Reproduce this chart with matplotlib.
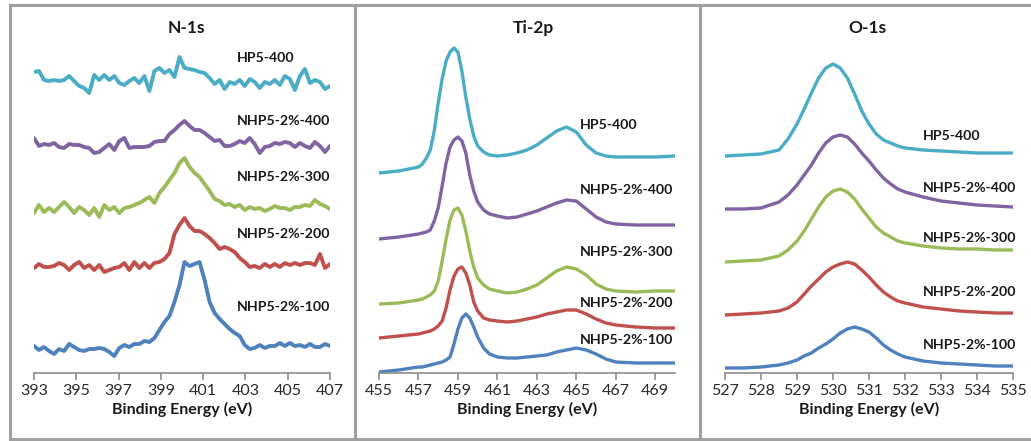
import numpy as np
import matplotlib
matplotlib.use("Agg")
import matplotlib.pyplot as plt
from matplotlib.lines import Line2D

plt.rcParams["font.family"] = ["Lato", "DejaVu Sans"]

names = ["HP5-400", "NHP5-2%-400", "NHP5-2%-300", "NHP5-2%-200", "NHP5-2%-100"]
colors = ["#4bacc6", "#8064a2", "#9bbb59", "#c0504d", "#4f81bd"]

# ---- N-1s (noisy, stacked with offsets) ----
n1s_energy = np.linspace(393, 407, 60)
n1s_hp5_400 = [301, 302, 293, 292, 293, 292, 293, 297, 292, 287,
               285, 280, 298, 293, 298, 293, 297, 290, 288, 292,
               295, 290, 297, 282, 302, 305, 300, 303, 296, 316,
               305, 304, 303, 301, 300, 295, 289, 293, 284, 291,
               289, 293, 287, 294, 291, 285, 291, 289, 293, 288,
               297, 294, 283, 297, 304, 290, 293, 291, 284, 287]
n1s_400 = [235, 227, 229, 228, 230, 226, 225, 229, 228, 228,
           226, 225, 220, 221, 225, 229, 223, 232, 235, 225,
           226, 226, 226, 227, 231, 232, 232, 239, 243, 248,
           252, 247, 243, 243, 240, 236, 232, 233, 227, 227,
           229, 232, 230, 235, 229, 220, 226, 227, 230, 229,
           231, 230, 226, 230, 227, 225, 231, 227, 221, 227]
n1s_300 = [160, 168, 161, 165, 161, 166, 171, 166, 160, 166,
           163, 158, 165, 156, 168, 163, 166, 160, 165, 166,
           168, 170, 173, 176, 170, 180, 186, 193, 200, 210,
           215, 206, 200, 196, 189, 182, 174, 172, 168, 169,
           166, 168, 163, 166, 164, 165, 162, 164, 167, 165,
           165, 163, 166, 166, 168, 167, 173, 169, 167, 164]
n1s_200 = [105, 109, 106, 106, 107, 110, 108, 103, 108, 111,
           105, 108, 103, 108, 101, 103, 105, 106, 110, 103,
           111, 105, 110, 105, 110, 111, 114, 120, 139, 148,
           155, 147, 142, 142, 139, 135, 130, 124, 126, 124,
           121, 115, 111, 106, 107, 105, 109, 106, 109, 106,
           110, 108, 110, 108, 110, 110, 108, 119, 105, 109]
n1s_100 = [27, 23, 26, 22, 19, 24, 22, 29, 26, 23,
           22, 24, 24, 25, 24, 21, 17, 25, 28, 26,
           29, 29, 32, 31, 35, 43, 51, 57, 71, 88,
           111, 107, 109, 111, 93, 71, 60, 54, 49, 44,
           40, 37, 28, 24, 25, 28, 25, 27, 27, 30,
           27, 30, 27, 28, 26, 29, 26, 26, 29, 27]

# ---- Ti-2p ----
ti_energy = [455, 456, 457, 457.2, 457.4, 457.6, 457.8, 458.0, 458.2, 458.4,
             458.6, 458.8, 459.0, 459.2, 459.4, 459.6, 459.8, 460.0, 460.3, 460.6,
             461, 461.5, 462, 462.5, 463, 463.5, 464, 464.5, 465, 465.5,
             466, 466.5, 467, 468, 469, 470]
ti_hp5_400 = [200, 202, 206, 209, 215, 223, 242, 270, 294, 312,
              321, 325, 321, 302, 276, 254, 237, 227, 221, 218,
              217, 218, 220, 223, 228, 235, 242, 246, 241, 228,
              220, 217, 216, 216, 216, 217]
ti_400 = [134, 136, 139, 140, 141, 143, 152, 165, 187, 210,
          226, 233, 236, 232, 220, 198, 182, 171, 163, 159,
          157, 155, 156, 159, 162, 166, 170, 173, 172, 164,
          156, 151, 149, 148, 148, 148]
ti_300 = [69, 70, 73, 74, 76, 78, 82, 92, 112, 134,
          153, 163, 165, 158, 142, 122, 106, 95, 88, 84,
          82, 80, 81, 84, 88, 95, 102, 106, 104, 98,
          89, 84, 82, 81, 82, 82]
ti_200 = [35, 37, 39, 40, 41, 42, 44, 47, 52, 65,
          83, 97, 104, 106, 100, 88, 71, 62, 55, 53,
          52, 51, 52, 54, 56, 59, 61, 63, 63, 59,
          54, 50, 48, 46, 45, 45]
ti_100 = [1, 3, 6, 6, 7, 8, 9, 10, 11, 13,
          16, 29, 44, 55, 59, 55, 46, 36, 25, 19,
          16, 15, 15, 16, 17, 18, 21, 23, 25, 23,
          19, 14, 11, 10, 10, 10]

# ---- O-1s ----
o_energy = [527, 527.5, 528, 528.5, 528.75, 529, 529.2, 529.4, 529.6, 529.8,
            530, 530.2, 530.4, 530.6, 530.8, 531, 531.2, 531.4, 531.6, 531.8,
            532, 532.5, 533, 533.5, 534, 534.5, 535]
o_hp5_400 = [217, 218, 219, 223, 234, 249, 264, 280, 295, 305,
             309, 305, 295, 279, 262, 249, 239, 233, 230, 227,
             225, 223, 222, 221, 220, 220, 220]
o_400 = [164, 164, 165, 171, 178, 188, 198, 208, 220, 230,
         236, 238, 236, 229, 220, 212, 203, 195, 189, 184,
         181, 176, 172, 170, 168, 167, 166]
o_300 = [111, 112, 113, 117, 123, 132, 142, 154, 166, 176,
         182, 184, 181, 174, 164, 155, 146, 140, 136, 132,
         130, 127, 125, 124, 124, 123, 123]
o_200 = [58, 59, 60, 62, 65, 71, 79, 87, 94, 101,
         106, 109, 111, 109, 103, 96, 88, 81, 76, 72,
         70, 66, 64, 62, 61, 60, 60]
o_100 = [5, 5, 6, 8, 10, 13, 17, 20, 25, 29,
         34, 40, 44, 46, 44, 41, 35, 28, 23, 19,
         16, 12, 10, 9, 8, 7, 7]

panels = [
    dict(title="N-1s", energy=n1s_energy,
         series=[n1s_hp5_400, n1s_400, n1s_300, n1s_200, n1s_100],
         xlim=(393, 407), ticks=range(393, 408, 2), title_x=400.2, lw=2.8,
         label_x=402.6, label_y=[315, 252, 196, 139, 66],
         box=(34, 330)),
    dict(title="Ti-2p", energy=ti_energy,
         series=[ti_hp5_400, ti_400, ti_300, ti_200, ti_100],
         xlim=(455, 470), ticks=range(455, 470, 2), title_x=462.8, lw=2.4,
         label_x=465.2, label_y=[248, 183, 121, 70, 33],
         box=(379, 675)),
    dict(title="O-1s", energy=o_energy,
         series=[o_hp5_400, o_400, o_300, o_200, o_100],
         xlim=(527, 535), ticks=range(527, 536), title_x=530.95, lw=2.4,
         label_x=532.5, label_y=[237, 185, 135, 81, 28],
         box=(725, 1013)),
]

W, H = 1031, 441
fig = plt.figure(figsize=(W / 100, H / 100), dpi=100)

# panel frames
frame = dict(color="#a0a0a0", lw=2.2, transform=fig.transFigure)
fig.add_artist(Line2D([10 / W, 10 / W], [1 - 5 / H, 1 - 439 / H], **frame))
fig.add_artist(Line2D([10 / W, 1.0], [1 - 5 / H, 1 - 5 / H], **frame))
fig.add_artist(Line2D([10 / W, 1.0], [1 - 439 / H, 1 - 439 / H], **frame))
for xs in (354.5, 700):
    fig.add_artist(Line2D([xs / W, xs / W], [1 - 5 / H, 1 - 439 / H], **frame))

top_px, bottom_px = 30, 373
for p in panels:
    x0, x1 = p["box"]
    ax = fig.add_axes([x0 / W, 1 - bottom_px / H, (x1 - x0) / W, (bottom_px - top_px) / H])
    ax.patch.set_alpha(0)
    for s, c in zip(p["series"], colors):
        ax.plot(p["energy"], s, color=c, lw=p["lw"], solid_joinstyle="round",
                solid_capstyle="round")
    for name, ly in zip(names, p["label_y"]):
        ax.text(p["label_x"], ly, name, fontsize=10.2, fontweight="bold",
                color="#1a1a1a", va="center", ha="left")
    ax.set_xlim(*p["xlim"])
    ax.set_ylim(0, bottom_px - top_px)
    ax.set_xticks(list(p["ticks"]))
    ax.set_yticks([])
    for side in ("left", "right", "top"):
        ax.spines[side].set_visible(False)
    ax.spines["bottom"].set_color("#8c8c8c")
    ax.spines["bottom"].set_linewidth(1.2)
    ax.tick_params(axis="x", direction="out", length=5, width=1.2, color="#8c8c8c",
                   labelsize=11.5, labelcolor="#2a2a2a", pad=3)
    ax.set_xlabel("Binding Energy (eV)", fontsize=11.5, fontweight="bold",
                  color="#1a1a1a", labelpad=3)
    ax.text(p["title_x"], bottom_px - 28, p["title"], ha="center", va="center",
            fontsize=12.5, fontweight="bold", color="#1a1a1a")

fig.savefig("out.png", dpi=100)
